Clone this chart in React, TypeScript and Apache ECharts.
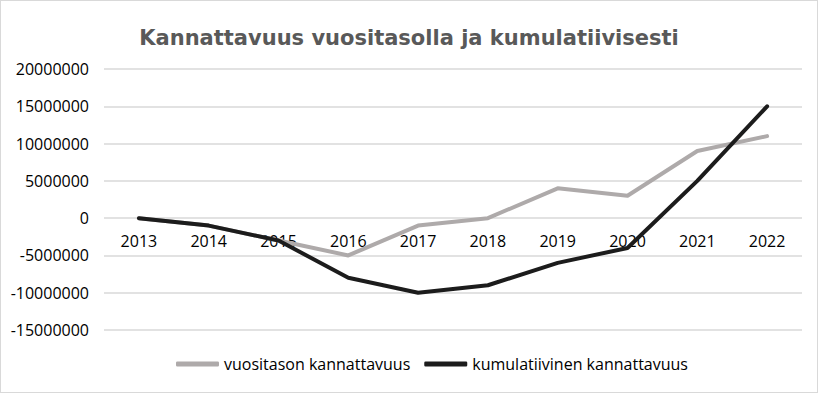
import React, { useEffect, useRef } from "react";
import * as echarts from "echarts";

const years = ["2013", "2014", "2015", "2016", "2017", "2018", "2019", "2020", "2021", "2022"];
const annual = [0, -1000000, -3000000, -5000000, -1000000, 0, 4000000, 3000000, 9000000, 11000000];
const cumulative = [0, -1000000, -3000000, -8000000, -10000000, -9000000, -6000000, -4000000, 5000000, 15000000];
const seriesNames = ["vuositason kannattavuus", "kumulatiivinen kannattavuus"];
const title = "Kannattavuus vuositasolla ja kumulatiivisesti";

const FONT = "'Open Sans', Lato, sans-serif";
const GRAY = "#aeaaaa";
const BLACK = "#1c1c1c";

const GRID_TOP = 68;
const GRID_BOTTOM = 62;
const HEIGHT = 393;
const Y_MIN = -15000000;
const Y_MAX = 20000000;

export default function App() {
  const ref = useRef<HTMLDivElement>(null);
  useEffect(() => {
    const chart = echarts.init(ref.current!, undefined, { renderer: "svg" });
    const gridH = HEIGHT - GRID_TOP - GRID_BOTTOM;
    const zeroOffset = (gridH * (0 - Y_MIN)) / (Y_MAX - Y_MIN);
    chart.setOption({
      animation: false,
      backgroundColor: "#ffffff",
      title: {
        text: title,
        left: "center",
        top: 21,
        textStyle: { fontFamily: "'DejaVu Sans', sans-serif", fontWeight: "bold", fontSize: 21, color: "#595959" },
      },
      grid: { left: 103, right: 15, top: GRID_TOP, bottom: GRID_BOTTOM },
      legend: {
        bottom: 15,
        left: 170,
        itemWidth: 43,
        itemHeight: 5,
        itemGap: 14,
        icon: "roundRect",
        textStyle: { fontFamily: FONT, fontSize: 16, color: "#000" },
        data: seriesNames,
      },
      xAxis: {
        type: "category",
        data: years,
        boundaryGap: true,
        position: "bottom",
        offset: -zeroOffset,
        axisLine: { show: false, onZero: false },
        axisTick: { show: false },
        axisLabel: { fontFamily: FONT, fontSize: 16, color: "#000", margin: 16 },
      },
      yAxis: {
        type: "value",
        min: Y_MIN,
        max: Y_MAX,
        interval: 5000000,
        axisLine: { show: false },
        axisTick: { show: false },
        splitLine: { lineStyle: { color: "#d9d9d9", width: 1.5 } },
        axisLabel: { fontFamily: FONT, fontSize: 16, color: "#000", margin: 15, formatter: (v: number) => String(v) },
      },
      series: [
        {
          name: seriesNames[0],
          type: "line",
          data: annual,
          symbol: "none",
          lineStyle: { color: GRAY, width: 4, cap: "round", join: "round" },
          itemStyle: { color: GRAY },
        },
        {
          name: seriesNames[1],
          type: "line",
          data: cumulative,
          symbol: "none",
          lineStyle: { color: BLACK, width: 4, cap: "round", join: "round" },
          itemStyle: { color: BLACK },
        },
      ],
    });
    return () => chart.dispose();
  }, []);
  return (
    <div
      ref={ref}
      style={{ position: "absolute", left: 0, top: 0, width: 818, height: 393, boxSizing: "border-box", border: "1px solid #d9d9d9" }}
    />
  );
}
